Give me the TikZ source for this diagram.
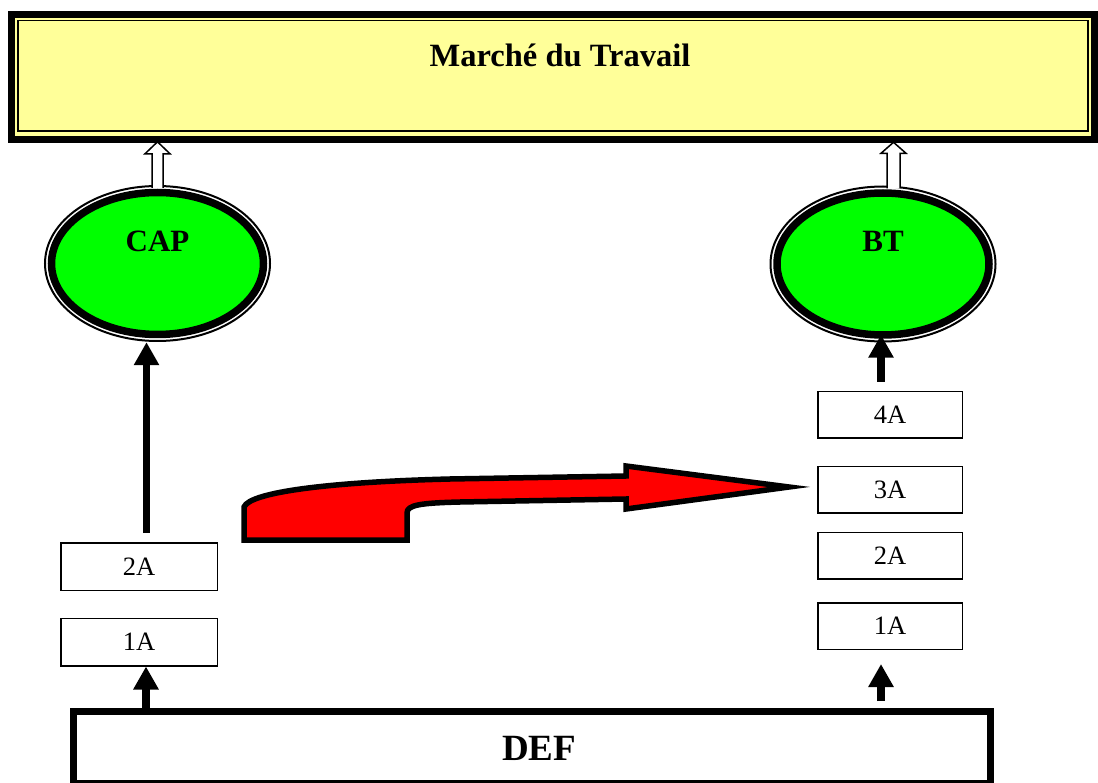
\documentclass[tikz,border=0pt]{standalone}
\usepackage{fontspec}
\setmainfont{Liberation Serif}
\usetikzlibrary{arrows.meta,shapes.geometric,calc}
\definecolor{bannerY}{HTML}{FFFF99}
\definecolor{ovalG}{HTML}{00FF00}
\definecolor{arrR}{HTML}{FF0000}
\begin{document}
\begin{tikzpicture}[x=1pt,y=-1pt,
  yearbox/.style={draw, line width=1.5pt, fill=white, inner sep=0pt, font=\fontsize{26.5}{30}\selectfont},
  lbox/.style={yearbox, minimum width=156.5pt, minimum height=47.5pt},
  rbox/.style={yearbox, minimum width=144.5pt, minimum height=46.5pt},
  bigtext/.style={font=\fontsize{31}{36}\selectfont\bfseries, inner sep=0pt},
  blk/.style={line width=8pt, -{Triangle[width=24pt,length=23pt]}},
  hollow/.style={draw=black, fill=white, line width=1.5pt, line join=miter},
  oval/.style={ellipse, draw=none, inner sep=0pt, minimum width=227pt, minimum height=157pt},
  redarrow/.style={draw=black, fill=arrR, line width=5.5pt, line join=miter, miter limit=20}
]
\useasboundingbox (0,0) rectangle (1098,783);
% banner
\node[draw=none, fill=bannerY, minimum width=1090pt, minimum height=132pt, inner sep=0pt, outer sep=0pt, anchor=north west] (mt) at (8,11) {};
\draw[line width=7pt] ($(mt.north west)+(3.5,3.5)$) rectangle ($(mt.south east)+(-3.5,-3.5)$);
\draw[line width=1.5pt] ($(mt.north west)+(10,9.5)$) rectangle ($(mt.south east)+(-10,-12)$);
\node[bigtext, font=\fontsize{32.5}{38}\selectfont\bfseries] (mtt) at (560,55) {Marché du Travail};
% ovals
\node[oval] (cap) at (157.5,263.5) {};
\draw[line width=2pt] (cap.center) ellipse [x radius=112.5pt, y radius=77.5pt];
\draw[line width=7.5pt, fill=ovalG] (cap.center) ellipse [x radius=106pt, y radius=71pt];
\node[bigtext] (capt) at ($(cap.center)+(0,-22)$) {CAP};
\node[oval] (bt) at (883,264) {};
\draw[line width=2pt] (bt.center) ellipse [x radius=112.5pt, y radius=77.5pt];
\draw[line width=7.5pt, fill=ovalG] (bt.center) ellipse [x radius=106pt, y radius=71pt];
\node[bigtext] (btt) at ($(bt.center)+(0,-23)$) {BT};
% hollow arrows to banner
\filldraw[hollow] ($(cap.north)+(-5.5,3)$) -- ++(0,-34) -- ++(-7,0) -- ++(12.5,-12) -- ++(12.5,12) -- ++(-7,0) -- ++(0,34);
\filldraw[hollow] ($(bt.north)+(4,3)$) -- ++(0,-35) -- ++(-6,0) -- ++(12.5,-11) -- ++(12.5,11) -- ++(-6,0) -- ++(0,35);
% year boxes
\node[lbox] (l2) at (139,566.5) {2A};
\node[lbox] (l1) at (139,642) {1A};
\node[rbox] (r4) at (890,415) {4A};
\node[rbox] (r3) at (890,489.5) {3A};
\node[rbox] (r2) at (890,555.5) {2A};
\node[rbox] (r1) at (890,626) {1A};
% DEF box
\node[draw, line width=7pt, minimum width=917pt, minimum height=72pt, inner sep=0pt] (def) at (532,747.5) {};
\node[bigtext, font=\fontsize{37}{42}\selectfont\bfseries] (deft) at (539,748) {DEF};
% black arrows
\coordinate (a1) at ([xshift=7pt]l1.south);
\draw[blk] (a1 |- def.north) -- (a1);
\coordinate (a2) at ([xshift=-9pt]r1.south);
\draw[blk, shorten <=7pt, shorten >=14pt] (a2 |- def.north) -- (a2);
\coordinate (a3) at ([xshift=-9pt]r4.north);
\draw[blk, shorten <=9pt, shorten >=-8pt] (a3) -- (a3 |- bt.south);
\coordinate (a4) at ([xshift=7.5pt]l2.north);
\draw[blk, line width=7pt, shorten <=9pt] (a4) -- (a4 |- cap.south);
% red bent arrow from CAP track to 3A
\draw[redarrow] (244,540) -- (244,507) .. controls (250,492) and (330,482) .. (450,479)
  -- (626,476) -- (626,466) -- (789,487) -- (626,509) -- (626,499)
  -- (460,502) .. controls (420,503) and (407,505) .. (407,513) -- (407,540) -- cycle;
\end{tikzpicture}
\end{document}
